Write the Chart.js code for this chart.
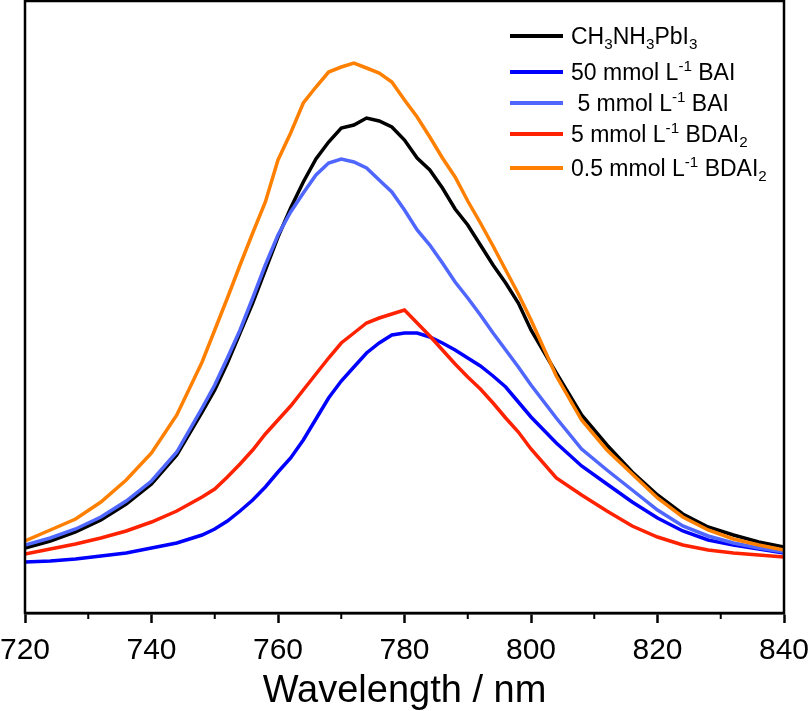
<!DOCTYPE html>
<html>
<head>
<meta charset="utf-8">
<script src="https://cdn.jsdelivr.net/npm/chart.js@4.4.1/dist/chart.umd.min.js"></script>
<style>
  html, body { margin: 0; padding: 0; background: #fff; }
  #wrap { position: relative; width: 810px; height: 711px; }
  .legend { position: absolute; left: 0; top: 0; font-family: "Liberation Sans", Arial, sans-serif; font-size: 23px; color: #000; }
  .row { position: absolute; left: 510px; height: 30px; display: flex; align-items: center; white-space: pre; }
  .swatch { width: 53px; height: 4px; margin-right: 8px; }
  .txt { line-height: 23px; }
  .txt sub { font-size: 0.66em; line-height: 0; vertical-align: -0.32em; }
  .txt sup { font-size: 0.66em; line-height: 0; vertical-align: 0.62em; }
</style>
</head>
<body>
<div id="wrap">
  <canvas id="plChart"></canvas>
  <div class="legend" id="legend"></div>
</div>
<script>
// wavelength grid (nm)
const wavelengths = [720,724,728,732,736,740,744,748,750,752,754,756,758,760,762,764,766,768,770,772,774,776,778,780,782,784,786,788,790,792,794,796,798,800,804,808,812,816,820,824,828,832,836,840];

// PL intensity (a.u.)
const mapbi3   = [65,72,81,93,109,129,158,201,223,250,280,310,343,376,405,431,454,471,485,488,495,492,486,473,455,443,425,404,388,368,348,330,310,283,240,198,168,141,118,99,86,78,71,66];
const bai50    = [51,52,54,57,60,65,70,78,84,92,102,113,126,141,155,173,194,215,232,246,260,270,278,280,280,276,270,263,255,247,237,226,211,196,170,147,129,111,95,82,73,68,64,60];
const bai5     = [68,75,84,96,112,132,161,205,228,255,283,315,348,378,401,420,438,450,454,451,445,433,421,403,383,368,350,331,315,298,280,263,246,228,195,164,143,123,103,87,77,70,65,61];
const bdai5    = [59,64,69,75,82,91,102,116,124,136,149,163,179,193,207,223,239,255,270,280,290,295,299,303,290,277,263,249,236,224,210,195,181,164,135,118,102,87,76,68,63,60,58,56];
const bdai05   = [72,83,94,111,133,160,198,251,283,315,348,380,411,453,480,510,526,541,546,550,545,540,531,513,496,476,455,436,412,390,367,343,319,293,237,193,163,139,115,96,83,74,68,63];

const seriesLabels = [
  'CH<sub>3</sub>NH<sub>3</sub>PbI<sub>3</sub>',
  '50 mmol L<sup>-1</sup> BAI',
  ' 5 mmol L<sup>-1</sup> BAI',
  '5 mmol L<sup>-1</sup> BDAI<sub>2</sub>',
  '0.5 mmol L<sup>-1</sup> BDAI<sub>2</sub>'
];
const seriesColors = ['#000000', '#0000ff', '#4f66ff', '#ff2200', '#ff8000'];
const seriesValues = [mapbi3, bai50, bai5, bdai5, bdai05];
const legendY = [36, 72, 103, 134, 168];

const FONT = '"Liberation Sans", Arial, sans-serif';

function toPoints(vals) {
  return wavelengths.map((w, i) => ({ x: w, y: vals[i] }));
}

// box around the plot + minor ticks
const framePlugin = {
  id: 'frame',
  afterDraw(chart) {
    const { ctx, chartArea: a, scales } = chart;
    ctx.save();
    ctx.strokeStyle = '#000';
    ctx.lineWidth = 2.5;
    ctx.strokeRect(a.left, a.top, a.right - a.left, a.bottom - a.top);
    ctx.lineWidth = 2;
    for (let v = 730; v < 840; v += 20) {
      const px = scales.x.getPixelForValue(v);
      ctx.beginPath();
      ctx.moveTo(px, a.bottom);
      ctx.lineTo(px, a.bottom + 6);
      ctx.stroke();
    }
    ctx.restore();
  }
};

const datasets = seriesValues.map((vals, i) => ({
  data: toPoints(vals),
  borderColor: seriesColors[i],
  borderWidth: 3.5,
  pointRadius: 0,
  tension: 0,
  fill: false,
  order: 5 - i
}));

new Chart(document.getElementById('plChart'), {
  type: 'line',
  data: { datasets },
  options: {
    responsive: true,
    maintainAspectRatio: false,
    animation: false,
    layout: { padding: { left: 25, right: 26, top: 1, bottom: 0 } },
    plugins: { legend: { display: false }, tooltip: { enabled: false } },
    scales: {
      x: {
        type: 'linear',
        min: 720,
        max: 840,
        afterFit(scale) { scale.paddingLeft = 0; scale.paddingRight = 0; scale.height = 98; },
        ticks: { stepSize: 20, color: '#000', padding: 10, maxRotation: 0, font: { family: FONT, size: 30, lineHeight: 1.2 } },
        grid: { display: true, drawOnChartArea: false, drawTicks: true, tickLength: 10, tickWidth: 2.5, tickColor: '#000', color: '#000' },
        border: { display: true, color: '#000', width: 2.5 },
        title: { display: true, text: 'Wavelength / nm', color: '#000', padding: { top: 0, bottom: 0 }, font: { family: FONT, size: 38, lineHeight: 1.05 } }
      },
      y: { display: false, min: 0, max: 612 }
    }
  },
  plugins: [framePlugin]
});

// legend with sub/superscripts
const lg = document.getElementById('legend');
seriesLabels.forEach((lab, i) => {
  const row = document.createElement('div');
  row.className = 'row';
  row.style.top = (legendY[i] - 15) + 'px';
  row.innerHTML = `<span class="swatch" style="background:${seriesColors[i]}"></span><span class="txt">${lab}</span>`;
  lg.appendChild(row);
});
</script>
</body>
</html>
